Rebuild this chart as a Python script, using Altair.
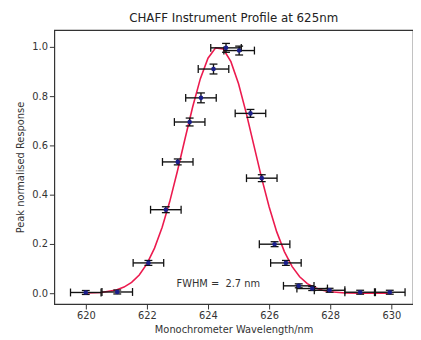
import altair as alt
import pandas as pd

# Measured points
wavelength = [620.0, 621.03, 622.05, 622.62, 623.01, 623.4, 623.77, 624.18, 624.59,
              625.02, 625.39, 625.76, 626.18, 626.55, 626.97, 627.41, 627.98, 628.98, 629.95]
response = [0.003, 0.005, 0.123, 0.339, 0.533, 0.695, 0.793, 0.91, 0.996,
            0.985, 0.73, 0.467, 0.199, 0.123, 0.03, 0.019, 0.012, 0.004, 0.004]
x_err = [0.5] * 19
y_err = [0.008, 0.008, 0.01, 0.012, 0.012, 0.016, 0.02, 0.02, 0.018,
         0.018, 0.016, 0.014, 0.01, 0.01, 0.008, 0.008, 0.008, 0.008, 0.008]

# Fitted profile
curve_x = [620.0, 620.5, 621.0, 621.25, 621.5, 621.75, 622.0, 622.25, 622.5, 622.75,
           623.0, 623.25, 623.5, 623.75, 624.0, 624.25, 624.5, 624.75, 625.0, 625.25,
           625.5, 625.75, 626.0, 626.25, 626.5, 626.75, 627.0, 627.25, 627.5, 627.75,
           628.0, 628.5, 629.0, 629.5, 630.0]
curve_y = [0.001, 0.003, 0.013, 0.025, 0.044, 0.074, 0.119, 0.183, 0.268, 0.373,
           0.496, 0.628, 0.757, 0.871, 0.954, 0.996, 0.991, 0.940, 0.850, 0.732,
           0.601, 0.470, 0.351, 0.249, 0.169, 0.109, 0.067, 0.039, 0.022, 0.012,
           0.006, 0.001, 0.0, 0.0, 0.0]

title_text = "CHAFF Instrument Profile at 625nm"
x_title = "Monochrometer Wavelength/nm"
y_title = "Peak normalised Response"
note_text = "FWHM =\u00a0\u00a02.7 nm"
note_pos = [622.97, 0.036]

pts = pd.DataFrame({"wl": wavelength, "r": response, "xe": x_err, "ye": y_err})
curve = pd.DataFrame({"wl": curve_x, "r": curve_y})
note = pd.DataFrame({"wl": [note_pos[0]], "r": [note_pos[1]], "t": [note_text]})

FONT = "DejaVu Sans"
xs = alt.Scale(domain=[618.97, 630.71], nice=False, zero=False)
ys = alt.Scale(domain=[-0.044, 1.068], nice=False, zero=False)

X = alt.X("wl:Q", scale=xs, title=x_title,
          axis=alt.Axis(values=[620, 622, 624, 626, 628, 630], format="d", grid=False))
Y = alt.Y("r:Q", scale=ys, title=y_title,
          axis=alt.Axis(values=[0, 0.2, 0.4, 0.6, 0.8, 1.0], format=".1f", grid=False))

base = alt.Chart(pts).transform_calculate(
    xlo="datum.wl - datum.xe", xhi="datum.wl + datum.xe",
    ylo="datum.r - datum.ye", yhi="datum.r + datum.ye")

EB = "#111111"
line = alt.Chart(curve).mark_line(color="#ec1a4e", strokeWidth=1.6).encode(x=X, y=Y)

hbar = base.mark_rule(color=EB, strokeWidth=1.4).encode(
    x=alt.X("xlo:Q", scale=xs), x2="xhi:Q", y=alt.Y("r:Q", scale=ys))
hcap_lo = base.mark_point(shape="M0,-1L0,1", size=64, filled=False, color=EB, strokeWidth=1.3,
                          opacity=1).encode(x=alt.X("xlo:Q", scale=xs), y=alt.Y("r:Q", scale=ys))
hcap_hi = base.mark_point(shape="M0,-1L0,1", size=64, filled=False, color=EB, strokeWidth=1.3,
                          opacity=1).encode(x=alt.X("xhi:Q", scale=xs), y=alt.Y("r:Q", scale=ys))
vbar = base.mark_rule(color=EB, strokeWidth=1.4).encode(
    x=alt.X("wl:Q", scale=xs), y=alt.Y("ylo:Q", scale=ys), y2="yhi:Q")
vcap_lo = base.mark_point(shape="M-1,0L1,0", size=64, filled=False, color=EB, strokeWidth=1.3,
                          opacity=1).encode(x=alt.X("wl:Q", scale=xs), y=alt.Y("ylo:Q", scale=ys))
vcap_hi = base.mark_point(shape="M-1,0L1,0", size=64, filled=False, color=EB, strokeWidth=1.3,
                          opacity=1).encode(x=alt.X("wl:Q", scale=xs), y=alt.Y("yhi:Q", scale=ys))
marks = base.mark_point(shape="circle", filled=True, size=22, color="#1b1f8a",
                        opacity=1).encode(x=alt.X("wl:Q", scale=xs), y=alt.Y("r:Q", scale=ys))
text = alt.Chart(note).mark_text(align="left", baseline="middle", font=FONT, fontSize=10,
                                 color="#333333").encode(
    x=alt.X("wl:Q", scale=xs), y=alt.Y("r:Q", scale=ys), text="t:N")

chart = alt.layer(line, hbar, hcap_lo, hcap_hi, vbar, vcap_lo, vcap_hi, marks, text).properties(
    width=364, height=278,
    title=alt.TitleParams(title_text, font=FONT, fontSize=12, fontWeight="normal",
                          color="#222222", offset=5, anchor="middle"),
    autosize=alt.AutoSizeParams(type="none"),
    padding={"left": 47, "top": 20, "right": 0, "bottom": 32},
).configure_view(stroke="#333333", strokeWidth=1.2).configure_axis(
    labelFont=FONT, titleFont=FONT, labelFontSize=10, titleFontSize=10,
    titleFontWeight="normal", labelColor="#333333", titleColor="#333333",
    domain=False, tickColor="#333333", tickSize=5, labelPadding=2,
).configure_axisX(titlePadding=4).configure_axisY(titlePadding=6)

chart.save("out.html", embed_options={"renderer": "svg", "actions": False})
